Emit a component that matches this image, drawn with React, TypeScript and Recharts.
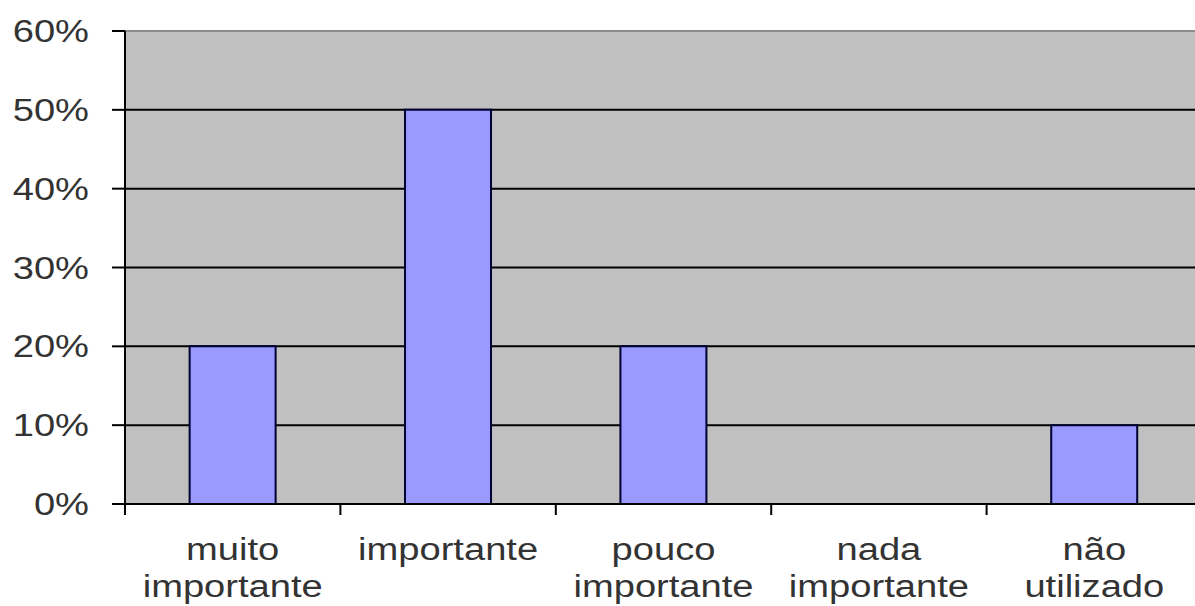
import { Bar, BarChart, CartesianGrid, ReferenceLine, XAxis, YAxis } from "recharts";

// answer categories, each split into the lines it is printed on
const categories = ["muito importante", "importante", "pouco importante", "nada importante", "não utilizado"];
const categoryLines = [
  ["muito", "importante"],
  ["importante"],
  ["pouco", "importante"],
  ["nada", "importante"],
  ["não", "utilizado"]
];
const shares = [0.2, 0.5, 0.2, 0, 0.1];
const yTicks = [0, 0.1, 0.2, 0.3, 0.4, 0.5, 0.6];

const data = categories.map((name, i) => ({ name, lines: categoryLines[i], share: shares[i] }));

const CHART_W = 1210;
const CHART_H = 606;
const MARGIN = { top: 31, right: 8, left: 0, bottom: 0 };
const Y_AXIS_W = 125;
const X_AXIS_H = 102;

const FONT = "'Liberation Sans', Arial, sans-serif";
const TEXT = "#333";
const STRETCH = 1.23; // glyphs are drawn a bit wider than tall

const pct = (v: number) => `${Math.round(v * 100)}%`;

function YTick({ x, y, payload }: any) {
  return (
    <text
      transform={`translate(${x},${y + 11}) scale(${STRETCH},1)`}
      textAnchor="end"
      fontFamily={FONT}
      fontSize={31}
      fill={TEXT}
    >
      {pct(payload.value)}
    </text>
  );
}

function XTick({ x, y, payload, index }: any) {
  const plotW = CHART_W - MARGIN.left - MARGIN.right - Y_AXIS_W;
  const half = payload.offset ?? plotW / categories.length / 2;
  const lines: string[] = data[index]?.lines ?? [String(payload.value)];
  return (
    <g>
      {/* category boundary tick */}
      <line x1={x - half} x2={x - half} y1={y} y2={y + 11} stroke="#000" strokeWidth={2} />
      {lines.map((line, i) => (
        <text
          key={i}
          transform={`translate(${x},${y + 56 + i * 37}) scale(${STRETCH},1)`}
          textAnchor="middle"
          fontFamily={FONT}
          fontSize={31}
          fill={TEXT}
        >
          {line}
        </text>
      ))}
    </g>
  );
}

export default function App() {
  return (
    <div
      style={{
        position: "absolute",
        left: 0,
        top: 0,
        width: 1195,
        height: 606,
        overflow: "hidden",
        background: "#fff"
      }}
    >
      <BarChart width={CHART_W} height={CHART_H} data={data} margin={MARGIN} barCategoryGap="30%">
        <CartesianGrid vertical={false} fill="#c0c0c0" stroke="#000" strokeWidth={2} />
        <XAxis
          dataKey="name"
          height={X_AXIS_H}
          interval={0}
          tickLine={false}
          tickSize={0}
          tickMargin={0}
          axisLine={{ stroke: "#000", strokeWidth: 2 }}
          tick={<XTick />}
        />
        <YAxis
          width={Y_AXIS_W}
          domain={[0, 0.6]}
          ticks={yTicks}
          interval={0}
          tickSize={13}
          tickMargin={23}
          tickLine={{ stroke: "#000", strokeWidth: 2 }}
          axisLine={{ stroke: "#000", strokeWidth: 2 }}
          tick={<YTick />}
        />
        <ReferenceLine y={0.6} stroke="#8c8c8c" strokeWidth={2} />
        <Bar dataKey="share" fill="#9999ff" stroke="#000033" strokeWidth={2} isAnimationActive={false} />
      </BarChart>
    </div>
  );
}
